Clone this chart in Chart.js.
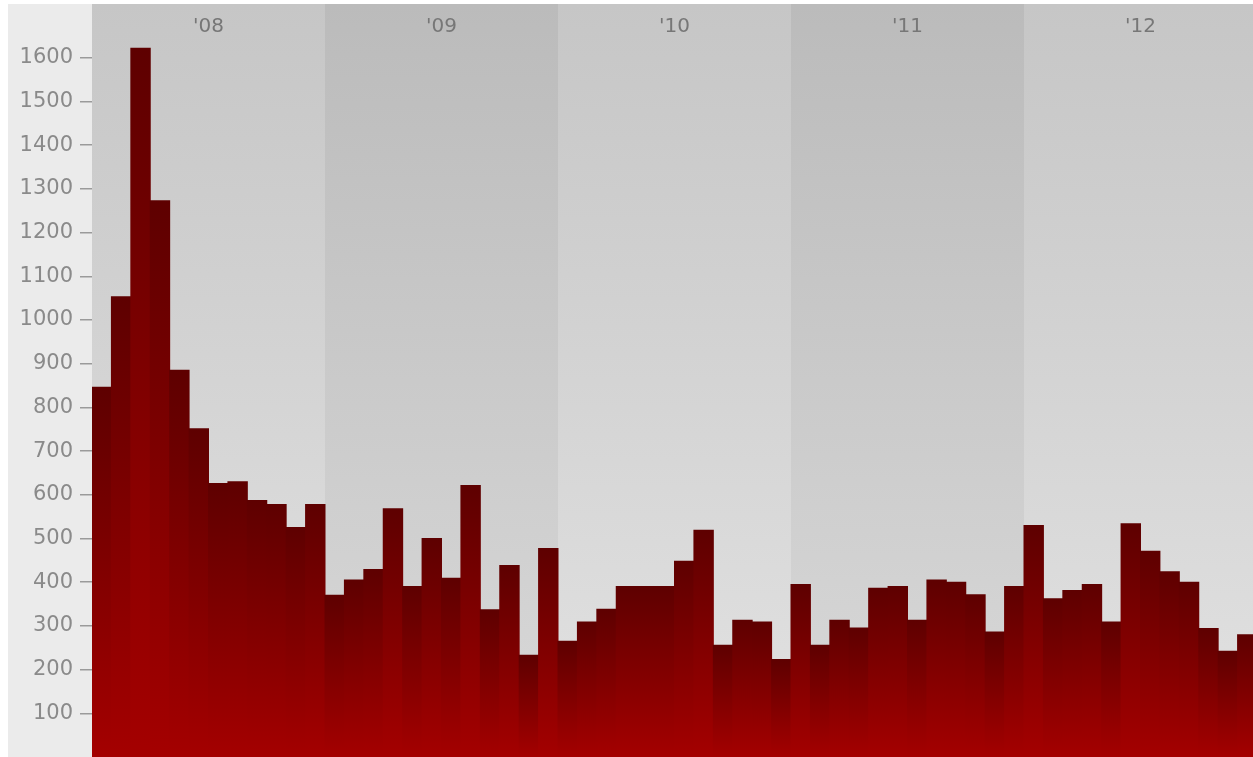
<!DOCTYPE html>
<html>
<head>
<meta charset="utf-8">
<script src="https://cdn.jsdelivr.net/npm/chart.js@4.4.1/dist/chart.umd.min.js"></script>
<style>
html,body{margin:0;padding:0;background:#fff;overflow:hidden}
#wrap{position:relative;width:1257px;height:757px}
</style>
</head>
<body>
<div id="wrap"><canvas id="c"></canvas></div>
<script>
const years = ["'08", "'09", "'10", "'11", "'12"];
const months = ['01','02','03','04','05','06','07','08','09','10','11','12'];
const values = [
  846, 1053, 1622, 1273, 885, 751, 626, 630, 587, 578, 525, 578,
  370, 405, 429, 568, 390, 500, 409, 621, 337, 438, 233, 477,
  265, 309, 338, 390, 390, 390, 448, 519, 256, 313, 309, 223,
  395, 256, 313, 295, 386, 390, 313, 405, 400, 371, 286, 390,
  530, 362, 381, 395, 309, 534, 471, 424, 400, 294, 242, 280
];
const yTicks = [100,200,300,400,500,600,700,800,900,1000,1100,1200,1300,1400,1500,1600];

const categories = [];
years.forEach(y => months.forEach(m => categories.push('20' + y.slice(1) + '-' + m)));

const TOP_AXIS_H = 42;

const bandsPlugin = {
  id: 'bands',
  beforeDraw(chart) {
    const {ctx, chartArea: a} = chart;
    const top = chart.scales.x2.top;
    ctx.save();
    ctx.fillStyle = '#ffffff';
    ctx.fillRect(0, 0, chart.width, chart.height);
    ctx.fillStyle = '#ebebeb';
    ctx.fillRect(8, top, a.left - 8, chart.height - top);
    const w = (a.right - a.left) / years.length;
    years.forEach((yr, i) => {
      const l = a.left + i * w;
      const g = ctx.createLinearGradient(0, top, 0, a.bottom);
      if (i % 2 === 0) { g.addColorStop(0, '#c6c6c6'); g.addColorStop(1, '#e2e2e2'); }
      else { g.addColorStop(0, '#bbbbbb'); g.addColorStop(1, '#d9d9d9'); }
      ctx.fillStyle = g;
      ctx.fillRect(l, top, w + 0.5, chart.height - top);
    });
    ctx.restore();
  }
};

new Chart(document.getElementById('c'), {
  type: 'bar',
  data: {
    labels: categories,
    datasets: [{
      data: values,
      xAxisID: 'x',
      yAxisID: 'y',
      categoryPercentage: 1,
      barPercentage: 1,
      inflateAmount: 0.5,
      borderWidth: 0,
      backgroundColor(ctx) {
        const chart = ctx.chart;
        const ys = chart.scales.y;
        if (!chart.chartArea || !ys) return '#800000';
        const top = ys.getPixelForValue(ctx.raw);
        const bot = ys.getPixelForValue(0);
        const g = chart.ctx.createLinearGradient(0, top, 0, bot);
        g.addColorStop(0, '#5e0000');
        g.addColorStop(1, '#a40000');
        return g;
      }
    }]
  },
  options: {
    responsive: true,
    maintainAspectRatio: false,
    animation: false,
    layout: {padding: {left: 8, top: 4, right: 0, bottom: 0}},
    plugins: {legend: {display: false}, tooltip: {enabled: false}},
    scales: {
      x: {display: false, offset: true, grid: {display: false}},
      x2: {
        type: 'category',
        labels: years,
        position: 'top',
        offset: true,
        grid: {display: false, drawTicks: false},
        border: {display: false},
        ticks: {color: '#777777', font: {family: 'DejaVu Sans', size: 20}, padding: 7, maxRotation: 0, minRotation: 0, autoSkip: false},
        afterFit(s) { s.height = TOP_AXIS_H; s.paddingLeft = 0; s.paddingRight = 0; }
      },
      y: {
        min: 0,
        max: 1627,
        position: 'left',
        afterBuildTicks(s) { s.ticks = yTicks.map(v => ({value: v})); },
        afterFit(s) { s.width = 84; s.paddingTop = 0; s.paddingBottom = 0; },
        grid: {drawOnChartArea: false, tickLength: 12, color: '#9a9a9a', lineWidth: 1.5},
        border: {display: false},
        ticks: {color: '#8a8a8a', font: {family: 'DejaVu Sans', size: 21}, padding: 7, callback: v => String(v)}
      }
    }
  },
  plugins: [bandsPlugin]
});
</script>
</body>
</html>
